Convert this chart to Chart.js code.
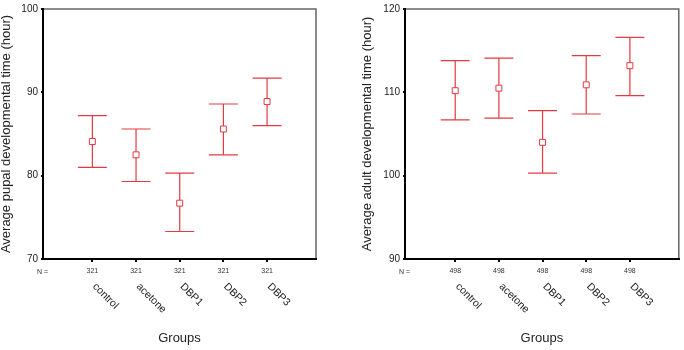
<!DOCTYPE html>
<html>
<head>
<meta charset="utf-8">
<script src="https://cdn.jsdelivr.net/npm/chart.js@4.4.1/dist/chart.umd.min.js"></script>
<style>
body { margin: 0; background: #fff; }
.wrap { position: absolute; top: 0; width: 342px; height: 350px; }
</style>
</head>
<body>
<div class="wrap" style="left:0"><canvas id="pupalChart"></canvas></div>
<div class="wrap" style="left:342px"><canvas id="adultChart"></canvas></div>
<script>
const groups = ['control', 'acetone', 'DBP1', 'DBP2', 'DBP3'];

const pupalMean = [84.1, 82.5, 76.7, 85.6, 88.9];
const pupalUpper = [87.2, 85.6, 80.3, 88.6, 91.7];
const pupalLower = [81.0, 79.3, 73.3, 82.5, 86.0];
const pupalN = [321, 321, 321, 321, 321];
const pupalTicks = [70, 80, 90, 100];

const adultMean = [110.2, 110.5, 104.0, 110.9, 113.2];
const adultUpper = [113.8, 114.1, 107.8, 114.4, 116.6];
const adultLower = [106.7, 106.9, 100.3, 107.4, 109.6];
const adultN = [498, 498, 498, 498, 498];
const adultTicks = [90, 100, 110, 120];

const FONT = 'Arial, "Liberation Sans", sans-serif';
const RED = '#e23a44';

// frame, error bars, "N =" and the slanted group names
const panelExtras = {
    id: 'panelExtras',
    beforeDraw(chart) {
        const ctx = chart.ctx;
        const a = chart.chartArea;
        ctx.save();
        ctx.strokeStyle = '#666';
        ctx.lineWidth = 1.5;
        ctx.strokeRect(a.left, a.top, a.right - a.left, a.bottom - a.top);
        ctx.restore();
    },
    beforeDatasetsDraw(chart, args, opts) {
        const ctx = chart.ctx;
        const xs = chart.scales.x;
        const ys = chart.scales.y;
        ctx.save();
        ctx.strokeStyle = RED;
        ctx.lineWidth = 1.2;
        opts.upper.forEach((u, i) => {
            const x = xs.getPixelForValue(i);
            const yu = ys.getPixelForValue(u);
            const yl = ys.getPixelForValue(opts.lower[i]);
            ctx.beginPath();
            ctx.moveTo(x, yu); ctx.lineTo(x, yl);
            ctx.moveTo(x - 14.5, yu); ctx.lineTo(x + 14.5, yu);
            ctx.moveTo(x - 14.5, yl); ctx.lineTo(x + 14.5, yl);
            ctx.stroke();
        });
        ctx.restore();
    },
    afterDraw(chart) {
        const ctx = chart.ctx;
        const xs = chart.scales.x;
        const a = chart.chartArea;
        ctx.save();
        ctx.fillStyle = '#333';
        ctx.font = '7px ' + FONT;
        ctx.textAlign = 'left';
        ctx.textBaseline = 'middle';
        ctx.fillText('N =', a.left - 6, 272);

        ctx.fillStyle = '#222';
        ctx.font = '10.5px ' + FONT;
        groups.forEach((g, i) => {
            const x = xs.getPixelForValue(i);
            ctx.save();
            ctx.translate(x + 2, 285);
            ctx.rotate(Math.PI / 4);
            ctx.fillText(g, 0, 0);
            ctx.restore();
        });
        ctx.restore();
    }
};

function buildChart(id, yTitle, means, upper, lower, counts, ticks, axisWidth, rightPad, xMin, titlePad) {
    const points = means.map((m, i) => ({ x: i, y: m }));
    return new Chart(document.getElementById(id), {
        type: 'scatter',
        data: {
            datasets: [{
                data: points,
                pointStyle: 'rect',
                pointRadius: 4.2,
                borderWidth: 1,
                borderColor: RED,
                backgroundColor: '#fff'
            }]
        },
        options: {
            responsive: true,
            maintainAspectRatio: false,
            animation: false,
            events: [],
            layout: { padding: { top: 9, right: rightPad, left: 0, bottom: 0 } },
            plugins: {
                legend: { display: false },
                tooltip: { enabled: false },
                panelExtras: { upper: upper, lower: lower }
            },
            scales: {
                x: {
                    type: 'linear',
                    min: xMin,
                    max: 5.12,
                    afterBuildTicks: s => { s.ticks = groups.map((g, i) => ({ value: i })); },
                    afterFit: s => { s.height = 91; },
                    ticks: {
                        callback: v => counts[Math.round(v)],
                        font: { family: FONT, size: 7 },
                        color: '#333',
                        padding: 5,
                        maxRotation: 0,
                        autoSkip: false
                    },
                    grid: { drawOnChartArea: false, tickLength: 3, color: '#000', lineWidth: 2 },
                    border: { color: '#000', width: 2 },
                    title: {
                        display: true,
                        text: 'Groups',
                        color: '#222',
                        font: { family: FONT, size: 13, lineHeight: 1 },
                        padding: { top: 0, bottom: 5 }
                    }
                },
                y: {
                    type: 'linear',
                    min: ticks[0],
                    max: ticks[ticks.length - 1],
                    afterBuildTicks: s => { s.ticks = ticks.map(v => ({ value: v })); },
                    afterFit: s => { s.width = axisWidth; },
                    ticks: { font: { family: FONT, size: 10 }, color: '#222', padding: 3 },
                    grid: { drawOnChartArea: false, tickLength: 2, color: '#000', lineWidth: 2 },
                    border: { color: '#000', width: 2 },
                    title: {
                        display: true,
                        text: yTitle,
                        color: '#222',
                        font: { family: FONT, size: 13, lineHeight: 1 },
                        padding: { top: titlePad, bottom: 0 }
                    }
                }
            }
        },
        plugins: [panelExtras]
    });
}

buildChart('pupalChart', 'Average pupal developmental time (hour)',
    pupalMean, pupalUpper, pupalLower, pupalN, pupalTicks, 43, 26, -1.13, 0);
buildChart('adultChart', 'Average adult developmental time (hour)',
    adultMean, adultUpper, adultLower, adultN, adultTicks, 63, 4, -1.15, 18.5);
</script>
</body>
</html>
